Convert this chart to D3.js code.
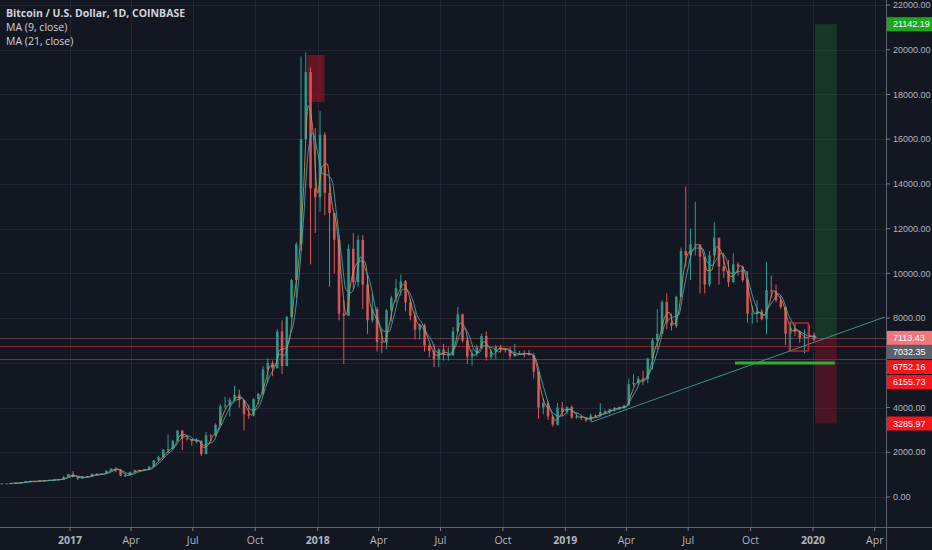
<!DOCTYPE html>
<meta charset="utf-8">
<style>
body { margin: 0; background: #131722; }
svg { display: block; font-family: "Open Sans", "Noto Sans", sans-serif; }
.grid line { stroke: #232733; stroke-width: 1; }
.axis text { fill: #b2b5be; font-size: 10.5px; }
.axis .price { font-family: "Liberation Sans", sans-serif; font-size: 9px; }
.legend text { fill: #d1d4dc; font-size: 10.5px; }
</style>
<svg width="932" height="550"></svg>
<script src="https://d3js.org/d3.v7.min.js"></script>
<script>

// weekly candles (week start, Monday); open = previous close
var firstWeek = "2016-09-19";
var firstOpen = 609;
var closes = [600,612,617,639,654,700,706,702,740,730,765,778,790,895,1020,
  900,825,920,918,1040,990,1050,1180,1270,1230,960,970,1120,1200,1180,1240,1360,
  1640,1780,2100,2150,2510,2970,2620,2580,2500,2510,1920,2760,2740,3230,4050,4100,4350,
  4580,4330,3700,3640,4380,4610,5700,6000,5750,7400,5850,8050,9700,11300,16000,19000,13800,13400,
  16200,13600,12700,11500,8200,8100,11100,9600,11500,9500,7900,8400,6930,6900,8350,8900,9350,
  9650,8700,8100,7480,7700,6770,6530,6150,6600,6350,6350,7400,8170,7000,6280,6400,6700,7200,
  6250,6500,6700,6600,6580,6290,6400,6420,6410,6350,5600,4000,4200,3600,3240,4000,3800,
  4030,3550,3600,3550,3420,3650,3620,3800,3820,3930,3990,4010,4100,5050,5100,5300,5280,
  6200,7000,7300,8720,7800,7650,8950,11000,10800,11300,11300,10750,9500,10800,11600,10300,10100,
  9600,10400,10300,9700,8200,8200,8300,7950,9250,9200,8800,8500,7300,7550,7400,7100,7150,7250,7030];
var highs = [612,617,622,642,660,718,740,725,752,745,775,782,795,932,1030,
  1160,910,925,930,1045,1060,1060,1190,1290,1330,1260,1060,1130,1220,1220,1260,1370,
  1650,1850,2150,2790,2560,3000,2980,2780,2590,2640,2540,2900,2800,3290,4150,4480,4450,
  4980,4800,4350,4120,4420,4650,5850,6200,6100,7500,7900,8100,9750,11400,19700,19890,19200,16500,
  17250,16300,14000,12100,11700,8800,11300,11800,11700,11700,9900,9100,8500,7500,8400,9000,9750,
  9950,9700,8850,8300,7750,7750,6850,6850,6650,6850,6700,7600,8500,8200,7150,6600,6800,7300,
  7400,6600,6800,6800,6650,6700,6850,6530,6550,6580,6450,5600,4400,4300,3600,4200,4250,
  4050,4100,3750,3650,3550,3730,3700,4200,3900,3950,4020,4050,4120,5300,5480,5400,5650,
  6220,7100,8400,8800,9100,8200,9000,11150,13880,12000,13200,11100,10600,11000,12300,11500,10900,
  10600,10900,10500,10350,10100,8550,8800,8400,10500,9900,9500,9000,8500,7850,7750,7450,7500,7700,7350];
var lows = [592,598,608,612,628,652,680,698,695,722,728,752,760,787,890,
  870,760,820,880,910,950,985,1040,1170,1100,940,890,960,1110,1140,1180,1230,
  1350,1570,1700,1950,2120,2480,2100,2530,2300,2400,1840,1900,2500,2680,3220,3970,3600,
  4300,4000,2970,3500,3600,4150,4550,5100,5400,6100,5500,5900,8000,8900,11000,16000,10400,11800,
  12750,12600,9400,10000,7900,5950,8100,9300,9400,8400,7300,7800,6500,6430,6600,7850,8700,
  9000,8300,7900,7050,7050,6500,6250,5800,5800,6100,6100,6300,7400,6900,5950,5880,6280,6650,
  6100,6150,6150,6450,6450,6150,6280,6380,6250,6320,5300,3500,3700,3450,3150,3200,3600,
  3700,3500,3500,3450,3350,3380,3550,3600,3700,3700,3820,3900,3950,4090,4950,5000,5000,
  5100,5700,6600,7500,7500,7450,7550,8950,10300,9700,10800,9100,9100,9400,11000,9500,9800,
  9400,9600,9900,9600,7800,7750,7800,7900,7300,8900,8700,8400,6800,6550,7200,6900,6430,7150,6960];

// y axis and time axis ticks
var priceTicks = [0,2000,4000,6000,8000,10000,12000,14000,16000,18000,20000,22000];
var timeTicks = ["2017-01-01","2017-04-01","2017-07-01","2017-10-01","2018-01-01","2018-04-01",
  "2018-07-01","2018-10-01","2019-01-01","2019-04-01","2019-07-01","2019-10-01","2020-01-01","2020-04-01"];
var timeLabels = ["2017","Apr","Jul","Oct","2018","Apr","Jul","Oct","2019","Apr","Jul","Oct","2020","Apr"];

// drawings
var hLines = [
  {price: 7113.43, color: "rgba(230,130,135,0.35)"},
  {price: 6752.16, color: "#8e2330"},
  {price: 6155.73, color: "#8e2330"}
];
var trendLine = [{date: "2019-02-08", price: 3350}, {date: "2020-04-16", price: 8050}];
var supportLine = {from: "2019-09-08", to: "2020-02-02", price: 5990};
var topBox = {from: "2017-12-17", to: "2018-01-11", top: 19770, bottom: 17660};
var smallBox = {from: "2019-11-27", to: "2019-12-25", top: 7780, bottom: 6530};
var position = {from: "2020-01-04", to: "2020-02-05", entry: 7113.43, target: 21142.19, stop: 3285.97};
// tags: value shown, and the level where the tag sits when it is pushed down
var priceTags = [
  {price: 21142.19, at: 21142.19, bg: "#1ba81b"},
  {price: 7113.43, at: 7113.43, bg: "#f0777b"},
  {price: 7032.35, at: 6480, bg: "#5d606b"},
  {price: 6752.16, at: 5810, bg: "#f5151d"},
  {price: 6155.73, at: 5140, bg: "#f5151d"},
  {price: 3285.97, at: 3285.97, bg: "#f5151d"}
];

var svg = d3.select("svg"),
    width = +svg.attr("width"),
    height = +svg.attr("height"),
    plotRight = 886,
    plotBottom = 527;

var parse = d3.timeParse("%Y-%m-%d");

var x = d3.scaleTime()
    .domain([parse("2017-01-01"), parse("2020-01-01")])
    .range([70, 813]);
var y = d3.scaleLinear()
    .domain([0, 22000])
    .range([497, 5]);

var start = parse(firstWeek);
var candles = closes.map(function(c, i) {
  return {
    date: d3.timeDay.offset(start, i * 7),
    open: i ? closes[i - 1] : firstOpen,
    high: highs[i],
    low: lows[i],
    close: c
  };
});

function movingAverage(n) {
  var out = [];
  for (var i = n - 1; i < candles.length; i++) {
    var s = 0;
    for (var j = 0; j < n; j++) s += candles[i - j].close;
    out.push({date: d3.timeDay.offset(candles[i].date, 7), value: s / n});
  }
  return out;
}

var fmt = d3.format(".2f");

svg.append("rect").attr("width", width).attr("height", height).attr("fill", "#131722");

svg.append("clipPath").attr("id", "plot")
  .append("rect").attr("width", plotRight).attr("height", plotBottom);

// grid
var grid = svg.append("g").attr("class", "grid").attr("clip-path", "url(#plot)");
grid.selectAll(".v").data(timeTicks).enter().append("line")
    .attr("x1", function(d) { return Math.round(x(parse(d))) + 0.5; })
    .attr("x2", function(d) { return Math.round(x(parse(d))) + 0.5; })
    .attr("y1", 0).attr("y2", plotBottom);
grid.selectAll(".h").data(priceTicks).enter().append("line")
    .attr("x1", 0).attr("x2", plotRight)
    .attr("y1", function(d) { return Math.round(y(d)) + 0.5; })
    .attr("y2", function(d) { return Math.round(y(d)) + 0.5; });

var g = svg.append("g").attr("clip-path", "url(#plot)");

// position zones
g.append("rect")
    .attr("x", x(parse(position.from)))
    .attr("width", x(parse(position.to)) - x(parse(position.from)))
    .attr("y", y(position.target))
    .attr("height", y(position.entry) - y(position.target))
    .attr("fill", "rgba(30,130,50,0.30)");
g.append("rect")
    .attr("x", x(parse(position.from)))
    .attr("width", x(parse(position.to)) - x(parse(position.from)))
    .attr("y", y(position.entry))
    .attr("height", y(position.stop) - y(position.entry))
    .attr("fill", "rgba(150,20,35,0.42)");

// horizontal levels
g.selectAll(".level").data(hLines).enter().append("line")
    .attr("x1", 0).attr("x2", plotRight)
    .attr("y1", function(d) { return Math.round(y(d.price)) + 0.5; })
    .attr("y2", function(d) { return Math.round(y(d.price)) + 0.5; })
    .attr("stroke", function(d) { return d.color; });

// top box
g.append("rect")
    .attr("x", x(parse(topBox.from)))
    .attr("width", x(parse(topBox.to)) - x(parse(topBox.from)))
    .attr("y", y(topBox.top))
    .attr("height", y(topBox.bottom) - y(topBox.top))
    .attr("fill", "rgba(160,20,35,0.6)");

// trend line
g.append("line")
    .attr("x1", x(parse(trendLine[0].date))).attr("y1", y(trendLine[0].price))
    .attr("x2", x(parse(trendLine[1].date))).attr("y2", y(trendLine[1].price))
    .attr("stroke", "#3f8f86").attr("stroke-width", 1);

// candles
var bw = 2.6;
var candle = g.selectAll(".candle").data(candles).enter().append("g")
    .attr("transform", function(d) { return "translate(" + x(d3.timeHour.offset(d.date, 84)) + ",0)"; });
candle.append("line")
    .attr("y1", function(d) { return y(d.high); })
    .attr("y2", function(d) { return y(d.low); })
    .attr("stroke", function(d) { return d.close >= d.open ? "#2a9d8f" : "#e0565b"; })
    .attr("stroke-width", 1);
candle.append("rect")
    .attr("x", -bw / 2).attr("width", bw)
    .attr("y", function(d) { return y(Math.max(d.open, d.close)); })
    .attr("height", function(d) { return Math.max(1, Math.abs(y(d.open) - y(d.close))); })
    .attr("fill", function(d) { return d.close >= d.open ? "#2a9d8f" : "#e0565b"; })
    .attr("opacity", 0.9);

// moving averages
var line = d3.line()
    .x(function(d) { return x(d.date); })
    .y(function(d) { return y(d.value); })
    .curve(d3.curveMonotoneX);
g.append("path").datum(movingAverage(2))
    .attr("d", line).attr("fill", "none")
    .attr("stroke", "#d8914f").attr("stroke-width", 1).attr("opacity", 0.85);
g.append("path").datum(movingAverage(3))
    .attr("d", line).attr("fill", "none")
    .attr("stroke", "#3fb0c0").attr("stroke-width", 1).attr("opacity", 0.85);

// small box and support line
g.append("rect")
    .attr("x", x(parse(smallBox.from)))
    .attr("width", x(parse(smallBox.to)) - x(parse(smallBox.from)))
    .attr("y", y(smallBox.top))
    .attr("height", y(smallBox.bottom) - y(smallBox.top))
    .attr("fill", "none").attr("stroke", "#e0262e").attr("stroke-width", 1.2);
g.append("line")
    .attr("x1", x(parse(supportLine.from))).attr("x2", x(parse(supportLine.to)))
    .attr("y1", y(supportLine.price)).attr("y2", y(supportLine.price))
    .attr("stroke", "#38a838").attr("stroke-width", 3);

// axes borders
svg.append("line").attr("x1", plotRight + 0.5).attr("x2", plotRight + 0.5)
    .attr("y1", 0).attr("y2", height).attr("stroke", "#5d606b");
svg.append("line").attr("x1", 0).attr("x2", width)
    .attr("y1", plotBottom + 0.5).attr("y2", plotBottom + 0.5).attr("stroke", "#5d606b");

// price axis: tick labels hidden where a price tag covers them
var tagYs = priceTags.map(function(t) { return y(t.at); });
var visibleTicks = priceTicks.filter(function(d) {
  return tagYs.every(function(ty) { return Math.abs(ty - y(d)) > 11; });
});
var yAxis = svg.append("g").attr("class", "axis");
var yt = yAxis.selectAll(".tick").data(visibleTicks).enter().append("g")
    .attr("transform", function(d) { return "translate(" + plotRight + "," + y(d) + ")"; });
yt.append("line").attr("x1", 0).attr("x2", 4).attr("stroke", "#787b86");
yt.append("text").attr("class", "price").attr("x", 7).attr("dy", "0.35em")
    .text(function(d) { return fmt(d); });

// price tags
var tag = yAxis.selectAll(".tag").data(priceTags).enter().append("g")
    .attr("transform", function(d) { return "translate(" + plotRight + "," + y(d.at) + ")"; });
tag.append("rect").attr("x", 1).attr("y", -7).attr("width", width - plotRight).attr("height", 14)
    .attr("fill", function(d) { return d.bg; });
tag.append("text").attr("class", "price").attr("x", 7).attr("dy", "0.35em").style("fill", "#ffffff")
    .text(function(d) { return fmt(d.price); });

// time axis
var xt = svg.append("g").attr("class", "axis").selectAll(".tick").data(timeTicks).enter().append("g")
    .attr("transform", function(d) { return "translate(" + x(parse(d)) + "," + plotBottom + ")"; });
xt.append("line").attr("y1", 0).attr("y2", 4).attr("stroke", "#787b86");
xt.append("text").attr("y", 17).attr("text-anchor", "middle")
    .style("font-weight", function(d, i) { return /\d/.test(timeLabels[i]) ? "bold" : "normal"; })
    .text(function(d, i) { return timeLabels[i]; });

// legend
var legend = svg.append("g").attr("class", "legend");
legend.append("text").attr("x", 6).attr("y", 17).style("font-weight", "bold")
    .text("Bitcoin / U.S. Dollar, 1D, COINBASE");
legend.append("text").attr("x", 6).attr("y", 31).text("MA (9, close)");
legend.append("text").attr("x", 6).attr("y", 45).text("MA (21, close)");

</script>
